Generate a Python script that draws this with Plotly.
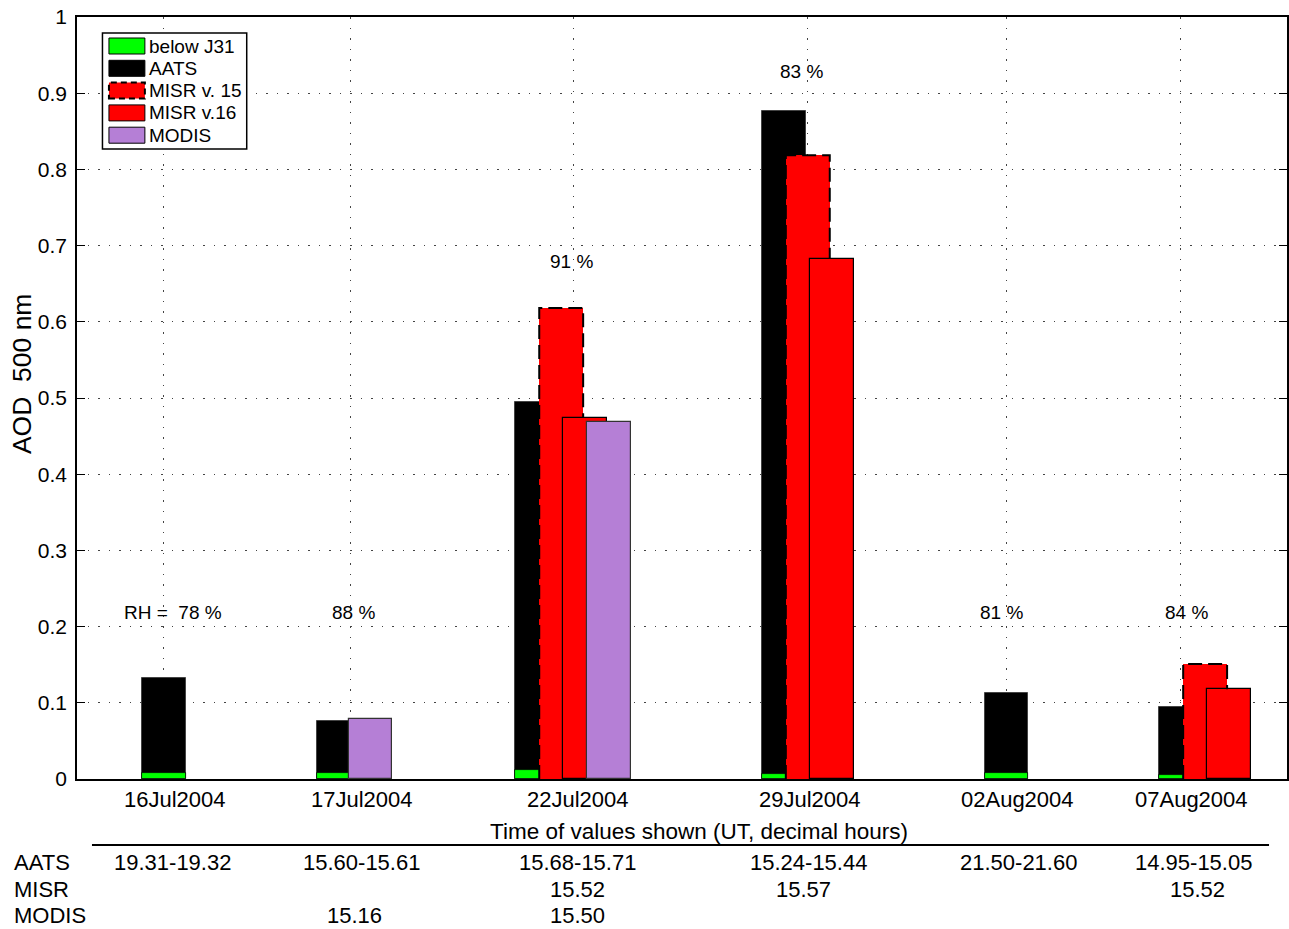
import plotly.graph_objects as go

# ---- data -------------------------------------------------------------
dates = ["16Jul2004", "17Jul2004", "22Jul2004", "29Jul2004", "02Aug2004", "07Aug2004"]
aats = [0.132, 0.0765, 0.495, 0.877, 0.1125, 0.0945]
below_j31 = [0.008, 0.0083, 0.0118, 0.007, 0.0075, 0.005]
misr_v15 = [None, None, 0.618, 0.8185, None, 0.151]
misr_v16 = [None, None, 0.474, 0.6825, None, 0.1177]
modis = [None, 0.079, 0.4685, None, None, None]
rh = [78, 88, 91, 83, 81, 84]

row_names = ["AATS", "MISR", "MODIS"]
aats_times = ["19.31-19.32", "15.60-15.61", "15.68-15.71", "15.24-15.44", "21.50-21.60", "14.95-15.05"]
misr_times = ["", "", "15.52", "15.57", "", "15.52"]
modis_times = ["", "15.16", "15.50", "", "", ""]

# ---- layout constants ---------------------------------------------------
W, H = 1289, 929
PL, PR, PT, PB = 77, 1289, 17, 779          # plot area in pixels
X_RANGE = [0, PR - PL]                       # x axis measured in pixels
DATE_POS = [87, 274, 497, 732, 931, 1105]    # group centre (gridline) per date
LABEL_POS = [98, 285, 502, 734, 942, 1116]   # date label centres
BAR_W = 44
OFF_AATS = [0.5, -12, -36, -24, 0, 1]
OFF_V15 = [0, 0, -12, 0, 0, 25]
OFF_V16 = [0, 0, 12, 24, 0, 48.5]
OFF_MODIS = [0, 20, 36, 0, 0, 0]
RH_X = [96, 277, 495, 725.5, 926, 1111]
RH_Y = [0.219, 0.219, 0.679, 0.928, 0.219, 0.219]

FONT = "Liberation Sans, Arial, Helvetica, sans-serif"
NARROW = "Liberation Sans Narrow, Arial Narrow, Liberation Sans, sans-serif"
GREEN, RED, PURPLE = "#00ff00", "#ff0000", "#b57fd6"
GRID = dict(showgrid=True, gridcolor="#444", gridwidth=1, griddash="1.5px,9px")


def px(xp):
    return (xp - PL) / (PR - PL)


def py(yp):
    return (PB - yp) / (PB - PT)


def bar_xy(values, offsets):
    xs, ys = [], []
    for i, v in enumerate(values):
        if v is not None:
            xs.append(DATE_POS[i] + offsets[i])
            ys.append(v)
    return xs, ys


fig = go.Figure()

x, y = bar_xy(aats, OFF_AATS)
fig.add_trace(go.Bar(x=x, y=y, width=BAR_W, marker=dict(color="black", line=dict(color="#444", width=1)),
                     name="AATS", showlegend=False))
x, y = bar_xy(below_j31, OFF_AATS)
fig.add_trace(go.Bar(x=x, y=y, width=BAR_W, marker=dict(color=GREEN, line=dict(color="black", width=0.8)),
                     name="below J31", showlegend=False))
x, y = bar_xy(misr_v15, OFF_V15)
fig.add_trace(go.Bar(x=x, y=y, width=BAR_W, marker=dict(color=RED, line=dict(width=0)),
                     name="MISR v. 15", showlegend=False))
x, y = bar_xy(misr_v16, OFF_V16)
fig.add_trace(go.Bar(x=x, y=y, width=BAR_W, marker=dict(color=RED, line=dict(color="black", width=1.2)),
                     name="MISR v.16", showlegend=False))
x, y = bar_xy(modis, OFF_MODIS)
fig.add_trace(go.Bar(x=x, y=y, width=BAR_W, marker=dict(color=PURPLE, line=dict(color="#333", width=1.2)),
                     name="MODIS", showlegend=False))

# dashed outline of the MISR v.15 bars (visible part, v.16 bar sits in front)
ox, oy = [], []
for i, v in enumerate(misr_v15):
    if v is None:
        continue
    c = DATE_POS[i] + OFF_V15[i]
    x0, x1 = c - BAR_W / 2, c + BAR_W / 2
    low = 0
    if misr_v16[i] is not None and DATE_POS[i] + OFF_V16[i] - BAR_W / 2 < x1:
        low = misr_v16[i]
    ox += [x0, x0, x1, x1, None]
    oy += [0, v, v, low, None]
fig.add_trace(go.Scatter(x=ox, y=oy, mode="lines", line=dict(color="black", width=2, dash="14px,6px"),
                         showlegend=False, hoverinfo="skip"))

annotations = []
shapes = []

# relative humidity labels
for i, r in enumerate(rh):
    txt = f"RH =  {r} %" if i == 0 else f"{r} %"
    annotations.append(dict(x=RH_X[i], y=RH_Y[i], xref="x", yref="y", text=txt, showarrow=False,
                            font=dict(size=19, color="black", family=FONT), xanchor="center", yanchor="middle"))

# date labels
for i, d in enumerate(dates):
    annotations.append(dict(x=LABEL_POS[i], y=py(799), xref="x", yref="paper", text=d, showarrow=False,
                            font=dict(size=22, color="black", family=FONT), xanchor="center", yanchor="middle"))

# y axis title
annotations.append(dict(x=px(22), y=py(374), xref="paper", yref="paper", text="AOD\u00a0\u00a0500 nm",
                        textangle=-90, showarrow=False, font=dict(size=26.5, color="black", family=FONT),
                        xanchor="center", yanchor="middle"))

# legend box
shapes.append(dict(type="rect", xref="paper", yref="paper", x0=px(102.5), x1=px(247), y0=py(149), y1=py(33),
                   line=dict(color="black", width=1.5), fillcolor="white", layer="above"))
legend_items = [("below J31", GREEN, "solid"), ("AATS", "black", "solid"), ("MISR v. 15", RED, "dash"),
                ("MISR v.16", RED, "solid"), ("MODIS", PURPLE, "solid")]
for k, (lbl, col, ls) in enumerate(legend_items):
    yc = 46 + k * 22.3
    shapes.append(dict(type="rect", xref="paper", yref="paper", x0=px(109), x1=px(145), y0=py(yc + 8),
                       y1=py(yc - 8), fillcolor=col, layer="above",
                       line=dict(color="black", width=2 if ls == "dash" else 1,
                                 dash="6px,4px" if ls == "dash" else "solid")))
    annotations.append(dict(x=px(147.5), y=py(yc), xref="paper", yref="paper", text=lbl, showarrow=False,
                            font=dict(size=19, color="black", family=FONT), xanchor="left", yanchor="middle"))

# time table under the axis
annotations.append(dict(x=px(700), y=py(831), xref="paper", yref="paper",
                        text="Time of values shown (UT, decimal hours)", showarrow=False,
                        font=dict(size=22.5, color="black", family=FONT), xanchor="center", yanchor="middle"))
shapes.append(dict(type="line", xref="paper", yref="paper", x0=px(92), x1=px(1271), y0=py(845), y1=py(845),
                   line=dict(color="black", width=2)))
ROW_Y = [862, 889, 915]
COL_X = [[172.5, 361.5, 578, 810, 1020, 1195.5],
         [172.5, 361.5, 578, 805, 1020, 1199],
         [172.5, 355, 578, 810, 1020, 1199]]
for r, (name, vals) in enumerate(zip(row_names, [aats_times, misr_times, modis_times])):
    annotations.append(dict(x=px(12), y=py(ROW_Y[r]), xref="paper", yref="paper", text=name, showarrow=False,
                            font=dict(size=22, color="black", family=FONT), xanchor="left", yanchor="middle"))
    for c, v in enumerate(vals):
        if v:
            annotations.append(dict(x=px(COL_X[r][c]), y=py(ROW_Y[r]), xref="paper", yref="paper", text=v,
                                    showarrow=False, font=dict(size=22, color="black", family=FONT),
                                    xanchor="center", yanchor="middle"))

fig.update_layout(
    width=W, height=H,
    margin=dict(l=PL, r=W - PR, t=PT, b=H - PB, pad=0),
    paper_bgcolor="white", plot_bgcolor="white",
    barmode="overlay", bargap=0,
    font=dict(family=FONT, color="black"),
    annotations=annotations, shapes=shapes,
    showlegend=False,
    xaxis=dict(range=X_RANGE, showline=True, linecolor="black", linewidth=1.5, mirror=True,
               tickvals=DATE_POS, ticktext=[""] * len(DATE_POS), ticks="", zeroline=False,
               fixedrange=True, **GRID),
    # top axis carries only the inward tick marks at each date
    xaxis2=dict(range=X_RANGE, overlaying="x", side="top", anchor="y", showline=False,
                tickvals=DATE_POS, ticktext=[""] * len(DATE_POS), ticks="inside", ticklen=8,
                tickcolor="black", tickwidth=1, showgrid=False, zeroline=False, fixedrange=True),
    yaxis=dict(range=[0, 1], tickvals=[i / 10 for i in range(11)],
               ticktext=["0"] + [f"0.{i}" for i in range(1, 10)] + ["1"],
               showline=True, linecolor="black", linewidth=1.5, mirror="ticks", ticks="inside", ticklen=8,
               tickcolor="black", tickfont=dict(size=21, family=NARROW, color="black"),
               ticklabelstandoff=4, zeroline=False, fixedrange=True, **GRID),
)

fig.write_html("out.html")
